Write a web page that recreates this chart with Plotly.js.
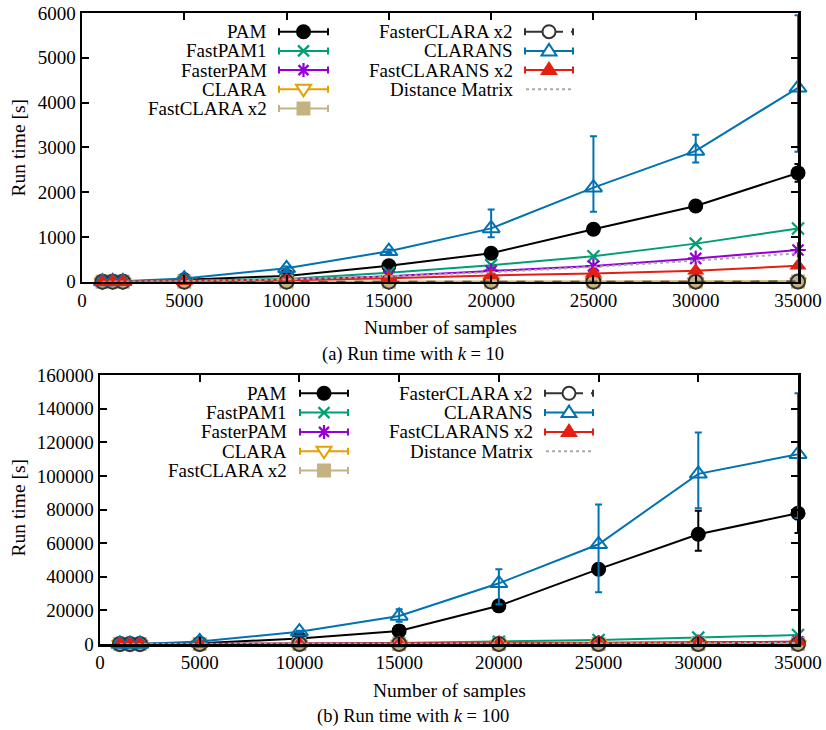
<!DOCTYPE html>
<html>
<head>
<meta charset="utf-8">
<script src="https://cdn.plot.ly/plotly-3.0.1.min.js"></script>
<style>html,body{margin:0;padding:0;background:#fff;}#chart{width:826px;height:730px;}</style>
</head>
<body>
<div id="chart"></div>
<script>
// ---------------- DATA ----------------
const samples = [1000, 1500, 2000, 5000, 10000, 15000, 20000, 25000, 30000, 35000];
const xTicks = [0, 5000, 10000, 15000, 20000, 25000, 30000, 35000];
const seriesNames = ["PAM", "FastPAM1", "FasterPAM", "CLARA", "FastCLARA x2", "FasterCLARA x2", "CLARANS", "FastCLARANS x2", "Distance Matrix"];

// k = 10
const pam10          = [1, 3, 5, 45, 130, 355, 635, 1170, 1690, 2430];
const pam10Plus      = [0, 0, 0, 0, 0, 20, 20, 30, 40, 200];
const pam10Minus     = [0, 0, 0, 0, 0, 20, 20, 30, 40, 200];
const fastpam1_10    = [0.5, 1, 2, 20, 60, 200, 370, 570, 850, 1190];
const fasterpam10    = [0.3, 0.7, 1.2, 10, 40, 120, 240, 350, 520, 708];
const clara10        = [0.05, 0.07, 0.1, 0.3, 0.6, 1, 1.3, 1.7, 2, 2.4];
const fastclara10    = [0.05, 0.06, 0.1, 0.3, 0.5, 0.9, 1.2, 1.5, 1.8, 2.2];
const fasterclara10  = [0.04, 0.05, 0.08, 0.2, 0.4, 0.7, 1, 1.2, 1.5, 1.8];
const clarans10      = [3, 5, 8, 70, 300, 680, 1190, 2100, 2920, 4330];
const clarans10Plus  = [0, 0, 0, 10, 40, 40, 420, 1150, 360, 1620];
const clarans10Minus = [0, 0, 0, 10, 40, 40, 200, 540, 260, 1430];
const fastclarans10  = [1, 2, 3, 12, 35, 75, 140, 185, 245, 355];
const distMatrix     = [0.5, 1.2, 2, 13, 52, 118, 210, 330, 470, 635];

// k = 100
const pam100          = [5, 15, 30, 400, 3300, 7800, 22700, 44500, 65300, 77800];
const pam100Plus      = [0, 0, 0, 0, 200, 400, 800, 2000, 14000, 3000];
const pam100Minus     = [0, 0, 0, 0, 200, 400, 800, 2000, 9900, 11800];
const fastpam1_100    = [1, 2, 4, 40, 200, 600, 1300, 2400, 3800, 5400];
const fasterpam100    = [0.5, 1, 2, 15, 80, 200, 400, 650, 950, 1300];
const clara100        = [1, 1.5, 2, 4, 8, 12, 16, 20, 25, 30];
const fastclara100    = [1, 1.3, 1.8, 3, 6, 10, 13, 17, 21, 26];
const fasterclara100  = [0.8, 1.1, 1.5, 2.5, 5, 8, 11, 14, 17, 21];
const clarans100      = [10, 20, 35, 1500, 7300, 16700, 36100, 59300, 101200, 112900];
const clarans100Plus  = [0, 0, 0, 200, 600, 4000, 8400, 23600, 24600, 36200];
const clarans100Minus = [0, 0, 0, 200, 600, 3400, 12500, 28500, 20400, 38000];
const fastclarans100  = [2, 4, 6, 50, 150, 300, 500, 700, 1000, 1300];

// ---------------- STYLES ----------------
const FONT = "Liberation Serif";
const W = 826, H = 730;
const PX = x => x / W;
const PY = y => 1 - y / H;

const styles = [
  {color: "#000000", symbol: "circle", size: 15, lw: 0, dash: "solid", mk: "dot"},
  {color: "#009e73", symbol: "x-thin-open", size: 12, lw: 2.2, dash: "solid", mk: "x"},
  {color: "#9400d3", symbol: "asterisk-open", size: 13, lw: 2.2, dash: "solid", mk: "ast"},
  {color: "#e69f00", symbol: "triangle-down-open", size: 14, lw: 2, dash: "solid", mk: "tridown"},
  {color: "#c4b381", symbol: "square", size: 14, lw: 0, dash: "solid", mk: "square"},
  {color: "#333333", symbol: "circle-open", size: 14, lw: 2, dash: "dash", mk: "ocircle"},
  {color: "#0072b2", symbol: "triangle-up-open", size: 15, lw: 2, dash: "solid", mk: "triup"},
  {color: "#e51e10", symbol: "triangle-up", size: 15, lw: 0, dash: "solid", mk: "trifill"},
  {color: "#aaaaaa", symbol: null, size: 0, lw: 0, dash: "dot", mk: null}
];

function mkTrace(i, y, plus, minus, xa, ya) {
  const s = styles[i];
  const t = {
    type: "scatter", x: samples, y: y, name: seriesNames[i],
    xaxis: xa, yaxis: ya, showlegend: false, cliponaxis: false,
    line: {color: s.color, width: 2, dash: s.dash},
    hoverinfo: "x+y+name"
  };
  if (s.symbol) {
    t.mode = "lines+markers";
    t.marker = {symbol: s.symbol, size: s.size, color: s.color, line: {color: s.color, width: s.lw}};
  } else {
    t.mode = "lines";
  }
  if (plus) {
    t.error_y = {type: "data", symmetric: false, array: plus, arrayminus: minus, color: s.color, thickness: 2, width: 3.5};
  }
  return t;
}

const data = [
  mkTrace(0, pam10, pam10Plus, pam10Minus, "x", "y"),
  mkTrace(1, fastpam1_10, null, null, "x", "y"),
  mkTrace(2, fasterpam10, null, null, "x", "y"),
  mkTrace(3, clara10, null, null, "x", "y"),
  mkTrace(4, fastclara10, null, null, "x", "y"),
  mkTrace(5, fasterclara10, null, null, "x", "y"),
  mkTrace(6, clarans10, clarans10Plus, clarans10Minus, "x", "y"),
  mkTrace(7, fastclarans10, null, null, "x", "y"),
  mkTrace(8, distMatrix, null, null, "x", "y"),

  mkTrace(0, pam100, pam100Plus, pam100Minus, "x2", "y2"),
  mkTrace(1, fastpam1_100, null, null, "x2", "y2"),
  mkTrace(2, fasterpam100, null, null, "x2", "y2"),
  mkTrace(3, clara100, null, null, "x2", "y2"),
  mkTrace(4, fastclara100, null, null, "x2", "y2"),
  mkTrace(5, fasterclara100, null, null, "x2", "y2"),
  mkTrace(6, clarans100, clarans100Plus, clarans100Minus, "x2", "y2"),
  mkTrace(7, fastclarans100, null, null, "x2", "y2"),
  mkTrace(8, distMatrix, null, null, "x2", "y2")
];

const axisCommon = {
  showline: true, linecolor: "#000", linewidth: 2.5, mirror: "ticks",
  ticks: "inside", ticklen: 7, tickwidth: 2, tickcolor: "#000",
  showgrid: false, zeroline: false, layer: "above traces",
  tickformat: "d",
  tickfont: {family: FONT, size: 19, color: "#000"}
};

// ---------------- CUSTOM LEGEND ----------------
const shapes = [];
const annotations = [];

function legendEntry(i, textRight, cy, x0, x1) {
  const s = styles[i];
  const cx = (x0 + x1) / 2;
  annotations.push({
    xref: "paper", yref: "paper", x: PX(textRight), y: PY(cy),
    xanchor: "right", yanchor: "middle", showarrow: false,
    text: seriesNames[i], font: {family: FONT, size: 19, color: "#000"}
  });
  const ln = {color: s.color, width: 2, dash: s.dash};
  if (s.mk === null) {
    shapes.push({type: "line", xref: "paper", yref: "paper", x0: PX(x0 + 1), x1: PX(x1 - 1), y0: PY(cy), y1: PY(cy), line: ln});
    return;
  }
  if (s.dash === "dash") {
    shapes.push({type: "line", xref: "paper", yref: "paper", x0: PX(x0), x1: PX(cx + 14), y0: PY(cy), y1: PY(cy), line: {color: s.color, width: 2}});
    shapes.push({type: "line", xref: "paper", yref: "paper", x0: PX(x1 - 2), x1: PX(x1), y0: PY(cy), y1: PY(cy), line: {color: s.color, width: 2}});
  } else {
    shapes.push({type: "line", xref: "paper", yref: "paper", x0: PX(x0), x1: PX(x1), y0: PY(cy), y1: PY(cy), line: {color: s.color, width: 2}});
  }
  [x0, x1].forEach(xx => shapes.push({type: "line", xref: "paper", yref: "paper", x0: PX(xx), x1: PX(xx), y0: PY(cy - 3.5), y1: PY(cy + 3.5), line: {color: s.color, width: 2}}));
  const P = (x, y) => PX(x).toFixed(5) + "," + PY(y).toFixed(5);
  switch (s.mk) {
    case "dot":
      shapes.push({type: "circle", xref: "paper", yref: "paper", x0: PX(cx - 7.5), x1: PX(cx + 7.5), y0: PY(cy + 7.5), y1: PY(cy - 7.5), fillcolor: s.color, line: {width: 0}});
      break;
    case "ocircle":
      shapes.push({type: "circle", xref: "paper", yref: "paper", x0: PX(cx - 6.5), x1: PX(cx + 6.5), y0: PY(cy + 6.5), y1: PY(cy - 6.5), fillcolor: "#fff", line: {color: s.color, width: 2}});
      break;
    case "square":
      shapes.push({type: "rect", xref: "paper", yref: "paper", x0: PX(cx - 7), x1: PX(cx + 7), y0: PY(cy + 7), y1: PY(cy - 7), fillcolor: s.color, line: {width: 0}});
      break;
    case "x":
      shapes.push({type: "path", xref: "paper", yref: "paper", path: "M" + P(cx - 5.5, cy - 5.5) + "L" + P(cx + 5.5, cy + 5.5) + "M" + P(cx - 5.5, cy + 5.5) + "L" + P(cx + 5.5, cy - 5.5), line: {color: s.color, width: 2.2}});
      break;
    case "ast":
      shapes.push({type: "path", xref: "paper", yref: "paper", path: "M" + P(cx - 5, cy - 5) + "L" + P(cx + 5, cy + 5) + "M" + P(cx - 5, cy + 5) + "L" + P(cx + 5, cy - 5) + "M" + P(cx, cy - 7) + "L" + P(cx, cy + 7), line: {color: s.color, width: 2.2}});
      break;
    case "tridown":
      shapes.push({type: "path", xref: "paper", yref: "paper", path: "M" + P(cx - 7.5, cy - 4.5) + "L" + P(cx + 7.5, cy - 4.5) + "L" + P(cx, cy + 7) + "Z", fillcolor: "#fff", line: {color: s.color, width: 2}});
      break;
    case "triup":
      shapes.push({type: "path", xref: "paper", yref: "paper", path: "M" + P(cx - 7.5, cy + 4.5) + "L" + P(cx + 7.5, cy + 4.5) + "L" + P(cx, cy - 7) + "Z", fillcolor: "#fff", line: {color: s.color, width: 2}});
      break;
    case "trifill":
      shapes.push({type: "path", xref: "paper", yref: "paper", path: "M" + P(cx - 9, cy + 5) + "L" + P(cx + 9, cy + 5) + "L" + P(cx, cy - 9) + "Z", fillcolor: s.color, line: {width: 0}});
      break;
  }
}

[0, 1, 2, 3, 4].forEach((i, k) => legendEntry(i, 269, 31.7 + k * 19.2, 279, 328));
[5, 6, 7, 8].forEach((i, k) => legendEntry(i, 515, 31.7 + k * 19.2, 525, 573));
[0, 1, 2, 3, 4].forEach((i, k) => legendEntry(i, 289, 393.3 + k * 19.3, 300, 348));
[5, 6, 7, 8].forEach((i, k) => legendEntry(i, 535, 393.3 + k * 19.3, 545, 593));

function txt(text, x, y, size, angle) {
  annotations.push({xref: "paper", yref: "paper", x: PX(x), y: PY(y), xanchor: "center", yanchor: "middle",
    showarrow: false, text: text, textangle: angle || 0, font: {family: FONT, size: size, color: "#000"}});
}
txt("Run time [s]", 17.5, 148, 19.5, -90);
txt("Number of samples", 440, 328, 19.5);
txt("(a) Run time with <i>k</i> = 10", 413, 354, 18.5);
txt("Run time [s]", 17.5, 508, 19.5, -90);
txt("Number of samples", 449, 690, 19.5);
txt("(b) Run time with <i>k</i> = 100", 413, 716, 18.5);

const layout = {
  width: W, height: H,
  margin: {l: 0, r: 0, t: 0, b: 0},
  paper_bgcolor: "#fff", plot_bgcolor: "#fff",
  font: {family: FONT, color: "#000"},
  showlegend: false,
  xaxis: Object.assign({}, axisCommon, {domain: [PX(82), PX(798)], range: [0, 35000], tickvals: xTicks, anchor: "y"}),
  yaxis: Object.assign({}, axisCommon, {domain: [PY(281.7), PY(13)], range: [0, 6000], dtick: 1000, anchor: "x"}),
  xaxis2: Object.assign({}, axisCommon, {domain: [PX(100), PX(798)], range: [0, 35000], tickvals: xTicks, anchor: "y2"}),
  yaxis2: Object.assign({}, axisCommon, {domain: [PY(644), PY(375)], range: [0, 160000], dtick: 20000, anchor: "x2"}),
  shapes: shapes,
  annotations: annotations
};

Plotly.newPlot("chart", data, layout, {displayModeBar: false, staticPlot: true});
</script>
</body>
</html>
